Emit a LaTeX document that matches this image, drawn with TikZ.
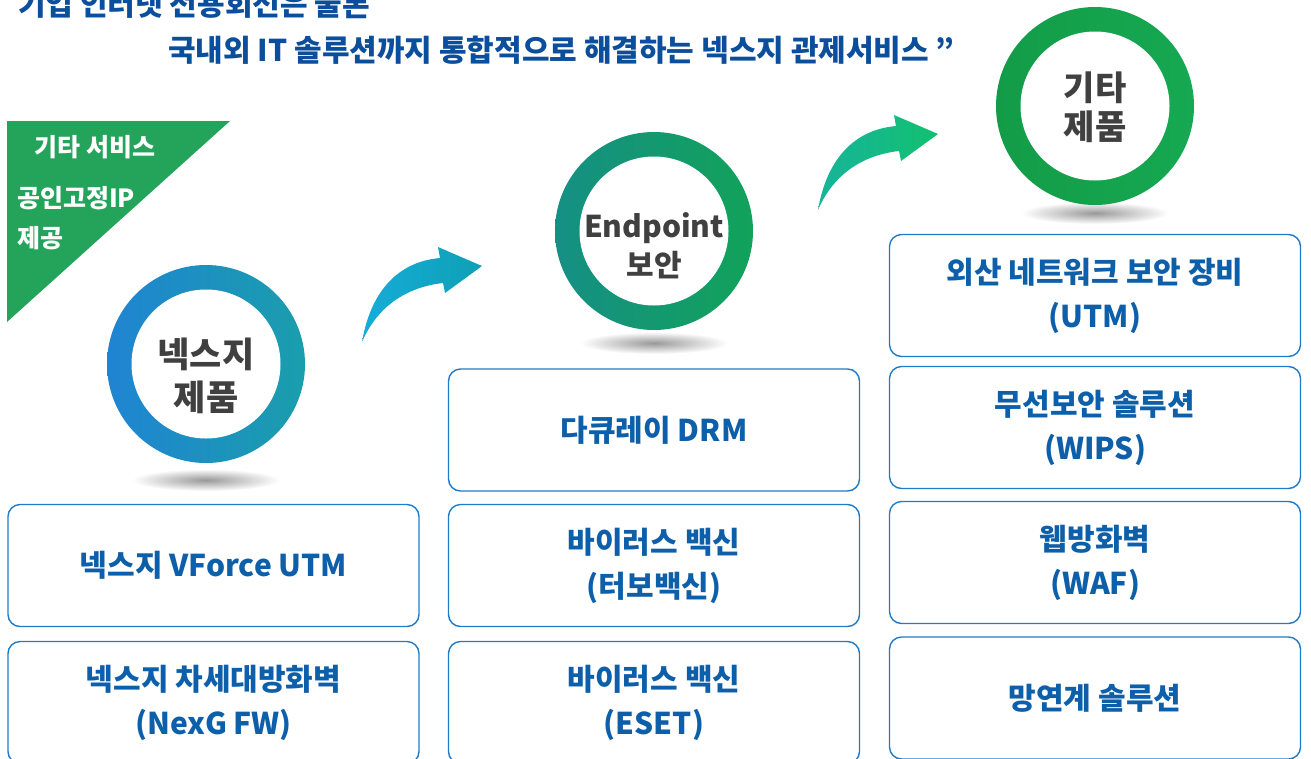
\documentclass[tikz,border=0pt]{standalone}
\usepackage{fontspec}
\setmainfont{Noto Sans CJK KR}

\definecolor{boxline}{HTML}{1F7BC6}
\definecolor{boxtext}{HTML}{0E5FA9}
\definecolor{titletext}{HTML}{0B4E9B}
\definecolor{ringtext}{HTML}{404040}
\definecolor{trigreen}{HTML}{23A45A}

\tikzset{
  prodbox/.style={draw=boxline, line width=1.4pt, rounded corners=12pt, minimum width=411pt, minimum height=122pt, inner sep=0pt, align=center, text=boxtext, font=\fontsize{30}{44}\selectfont\bfseries},
  ring/.style={circle, minimum size=198pt, inner sep=0pt},
  hole/.style={circle, fill=white, minimum size=149pt, inner sep=0pt},
  ringlabel/.style={align=center, text=ringtext, inner sep=0pt},
  tritext/.style={text=white, inner sep=0pt, font=\fontsize{25}{28}\selectfont\bfseries},
  headline/.style={anchor=west, inner sep=0pt, text=titletext, font=\fontsize{30}{36}\selectfont\bfseries},
  blob/.style={inner color=black!40, outer color=white},
}

\begin{document}
\begin{tikzpicture}[x=1pt, y=-1pt]
\useasboundingbox (0,0) rectangle (1311,758);
\clip (0,0) rectangle (1311,758);

% title
\node (head1) at (18,4) [headline] {기업 인터넷 전용회선은 물론};
\node (head2) at (168,50) [headline] {국내외 IT 솔루션까지 통합적으로 해결하는 넥스지 관제서비스 ”};

% green corner
\fill [trigreen] (7,121) -- (230,121) -- (7,322) -- cycle;
\node (etc1) at (95,147) [tritext] {기타 서비스};
\node (etc2) at (17,198) [tritext, anchor=west] {공인고정IP};
\node (etc3) at (17,238) [tritext, anchor=west] {제공};

% shadows
\shade [blob] (206,480) ellipse [x radius=74, y radius=11];
\shade [blob] (654,343) ellipse [x radius=74, y radius=11];
\shade [blob] (1095,213) ellipse [x radius=74, y radius=11];

% rings
\node (ring1) at (206,364) [ring, left color={rgb,255:red,31;green,132;blue,210}, right color={rgb,255:red,26;green,158;blue,172}] {};
\node (hole1) at (ring1) [hole] {};
\node (lab1) at (206,376) [ringlabel, font=\fontsize{35}{43}\selectfont\bfseries] {넥스지\\제품};

\node (ring2) at (654,231) [ring, left color={rgb,255:red,21;green,143;blue,132}, right color={rgb,255:red,18;green,162;blue,90}] {};
\node (hole2) at (ring2) [hole] {};
\node (lab2) at (654,246) [ringlabel, font=\fontsize{30}{39}\selectfont\bfseries] {Endpoint\\보안};

\node (ring3) at (1095,106) [ring, left color={rgb,255:red,19;green,156;blue,72}, right color={rgb,255:red,22;green,168;blue,82}] {};
\node (hole3) at (ring3) [hole] {};
\node (lab3) at (1095,107) [ringlabel, font=\fontsize{34}{39}\selectfont\bfseries] {기타\\제품};

% bent arrows
\shade [left color={rgb,255:red,21;green,172;blue,216}, right color={rgb,255:red,15;green,160;blue,181}]
  (362,342) .. controls (370,295) and (395,262) .. (440,258) -- (438,247) -- (482,266) -- (445,293) -- (443,283)
  .. controls (400,288) and (375,312) .. (362,342) -- cycle;
\shade [left color={rgb,255:red,23;green,180;blue,154}, right color={rgb,255:red,18;green,192;blue,112}]
  (818,210) .. controls (826,163) and (851,130) .. (896,126) -- (894,115) -- (938,134) -- (901,161) -- (899,151)
  .. controls (856,156) and (831,180) .. (818,210) -- cycle;

% product boxes
\node (nx1) at (213.5,565.5) [prodbox] {넥스지 VForce UTM};
\node (nx2) at (213.5,702.5) [prodbox] {넥스지 차세대방화벽\\(NexG FW)};

\node (ep1) at (654,430) [prodbox] {다큐레이 DRM};
\node (ep2) at (654,565.5) [prodbox] {바이러스 백신\\(터보백신)};
\node (ep3) at (654,702.5) [prodbox] {바이러스 백신\\(ESET)};

\node (ot1) at (1095,295.5) [prodbox] {외산 네트워크 보안 장비\\(UTM)};
\node (ot2) at (1095,427.5) [prodbox] {무선보안 솔루션\\(WIPS)};
\node (ot3) at (1095,562.5) [prodbox] {웹방화벽\\(WAF)};
\node (ot4) at (1095,698) [prodbox] {망연계 솔루션};

\end{tikzpicture}
\end{document}
